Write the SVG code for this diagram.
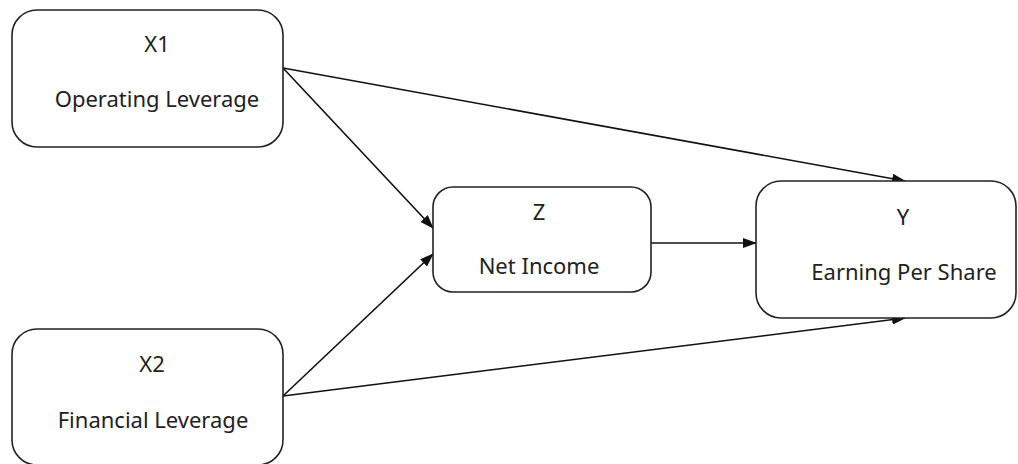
<svg xmlns="http://www.w3.org/2000/svg" width="1018" height="464" viewBox="0 0 1018 464">
<style>
.box{fill:#fff;stroke:#222;stroke-width:1.6}
.t{font-family:"Noto Sans","Open Sans",sans-serif;font-size:22px;fill:#222;text-anchor:middle}
.c{stroke:#111;stroke-width:1.6;fill:none;marker-end:url(#ah)}
</style>
<defs>
<marker id="ah" markerWidth="14" markerHeight="10" refX="13" refY="5" orient="auto" markerUnits="userSpaceOnUse">
<path d="M0,0 L14,5 L0,10 Z" fill="#111"/>
</marker>
</defs>
<rect width="1018" height="464" fill="#fff"/>
<g id="connectors">
<line class="c" x1="283" y1="68" x2="905" y2="181"/>
<line class="c" x1="283" y1="68" x2="433" y2="228"/>
<line class="c" x1="283" y1="396" x2="433" y2="254"/>
<line class="c" x1="283" y1="396" x2="905" y2="318"/>
<line class="c" x1="651" y1="243" x2="756" y2="243"/>
</g>
<g id="x1">
<rect class="box" x="12" y="10" width="271" height="137" rx="25"/>
<text class="t" x="157" y="52">X1</text>
<text class="t" x="157" y="107">Operating Leverage</text>
</g>
<g id="x2">
<rect class="box" x="12" y="329" width="271" height="136" rx="25"/>
<text class="t" x="152" y="372">X2</text>
<text class="t" x="153" y="428">Financial Leverage</text>
</g>
<g id="z">
<rect class="box" x="433" y="187" width="218" height="105" rx="20"/>
<text class="t" x="539" y="220">Z</text>
<text class="t" x="539" y="274">Net Income</text>
</g>
<g id="y">
<rect class="box" x="756" y="181" width="260" height="137" rx="25"/>
<text class="t" x="903" y="225">Y</text>
<text class="t" x="904" y="280">Earning Per Share</text>
</g>
</svg>
